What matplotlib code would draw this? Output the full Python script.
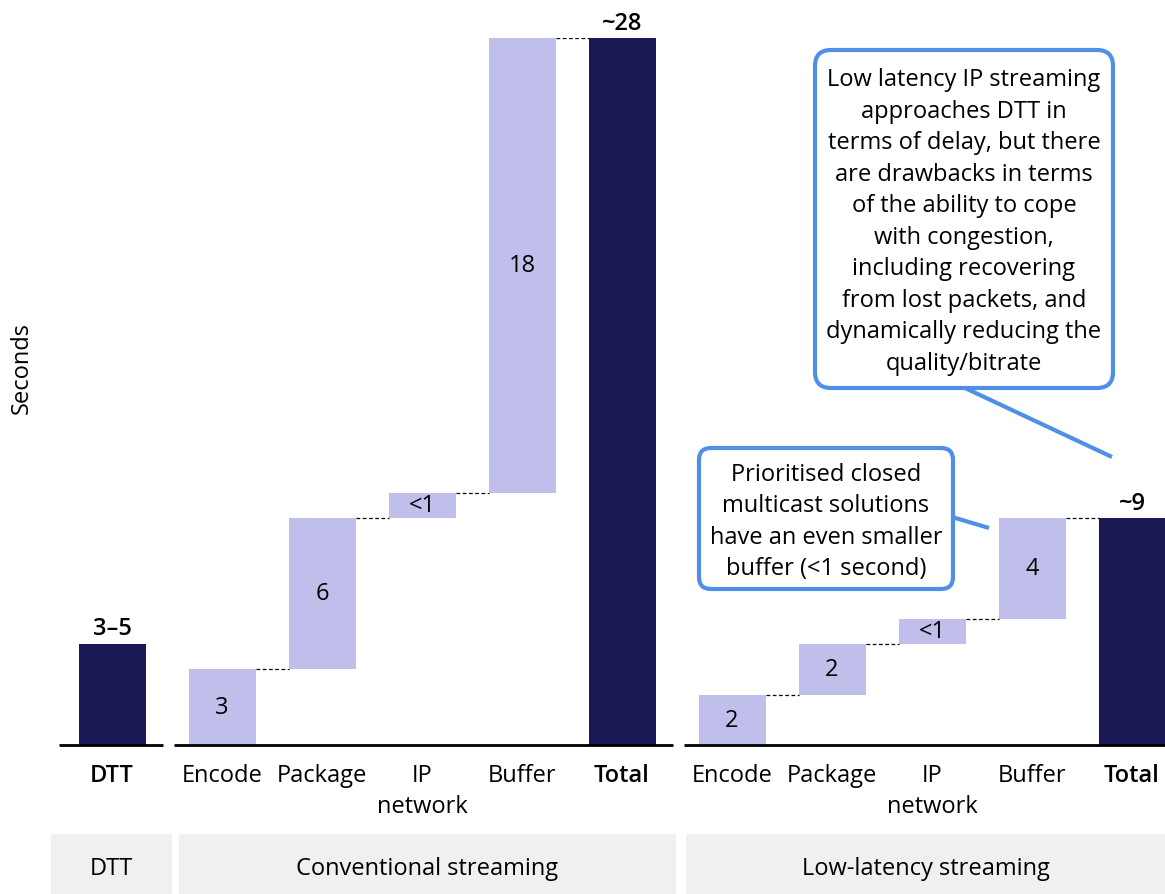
import matplotlib
matplotlib.use("Agg")
import matplotlib.pyplot as plt
from matplotlib.patches import FancyBboxPatch, Rectangle

plt.rcParams['font.family'] = ['Open Sans', 'DejaVu Sans']

# ---- data ----
dtt_value = 4
dtt_label = "3–5"
conv_steps = ["Encode", "Package", "IP\nnetwork", "Buffer"]
conv_values = [3, 6, 1, 18]
conv_labels = ["3", "6", "<1", "18"]
conv_total = 28
conv_total_label = "~28"
low_steps = ["Encode", "Package", "IP\nnetwork", "Buffer"]
low_values = [2, 2, 1, 4]
low_labels = ["2", "2", "<1", "4"]
low_total = 9
low_total_label = "~9"
group_names = ["DTT", "Conventional streaming", "Low-latency streaming"]
note_big = ("Low latency IP streaming\napproaches DTT in\nterms of delay, but there\n"
            "are drawbacks in terms\nof the ability to cope\nwith congestion,\n"
            "including recovering\nfrom lost packets, and\ndynamically reducing the\nquality/bitrate")
note_small = "Prioritised closed\nmulticast solutions\nhave an even smaller\nbuffer (<1 second)"

DARK = "#1b1856"
LIGHT = "#c0bfec"
BLUE = "#4f8fe6"
GREY = "#f0f0f0"
FS = 17
LS = 1.42

W, H = 1165, 895
fig = plt.figure(figsize=(W / 100, H / 100), dpi=100)

base_px, top_px = 746, 39
ax = fig.add_axes([0, (H - base_px) / H, 1, (base_px - top_px) / H])
ax.set_xlim(-1.12, 10.53)
ax.set_ylim(0, 28)
for s in ax.spines.values():
    s.set_visible(False)
ax.set_yticks([])
bw = 0.67

# DTT
ax.bar([0], [dtt_value], width=bw, color=DARK)
ax.annotate(dtt_label, (0, dtt_value), xytext=(0, 3), textcoords="offset points",
            ha="center", va="bottom", fontsize=FS, fontweight="semibold")

ticks, ticklabels, bold = [0], ["DTT"], [True]


def waterfall(x0, values, labels, total, total_label, names):
    cum = 0
    xs = [x0 + i for i in range(len(values) + 1)]
    for i, (v, lab) in enumerate(zip(values, labels)):
        ax.bar([xs[i]], [v], bottom=[cum], width=bw, color=LIGHT)
        ax.text(xs[i], cum + v / 2, lab, ha="center", va="center", fontsize=FS)
        cum += v
        ax.plot([xs[i] + bw / 2, xs[i + 1] - bw / 2], [cum, cum], color="black",
                lw=0.9, ls=(0, (3, 2)))
    ax.bar([xs[-1]], [total], width=bw, color=DARK)
    ax.annotate(total_label, (xs[-1], total), xytext=(0, 2), textcoords="offset points",
                ha="center", va="bottom", fontsize=FS, fontweight="semibold",
                annotation_clip=False)
    ticks.extend(xs)
    ticklabels.extend(names + ["Total"])
    bold.extend([False] * len(names) + [True])


waterfall(1.1, conv_values, conv_labels, conv_total, conv_total_label, conv_steps)
waterfall(6.2, low_values, low_labels, low_total, low_total_label, low_steps)

# baselines
for a, b in [(-0.53, 0.51), (0.62, 5.61), (5.72, 10.6)]:
    ax.plot([a, b], [0, 0], color="black", lw=2, solid_capstyle="butt", clip_on=False)

ax.set_xticks(ticks)
ax.set_xticklabels(ticklabels, fontsize=FS, linespacing=1.36)
ax.tick_params(axis="x", length=0, pad=13)
for t, b in zip(ax.get_xticklabels(), bold):
    if b:
        t.set_fontweight("semibold")

fig.text(22 / W, 1 - 368 / H, "Seconds", rotation=90, ha="center", va="center", fontsize=FS)

# overlay in pixel coordinates
ov = fig.add_axes([0, 0, 1, 1], zorder=5)
ov.set_xlim(0, W)
ov.set_ylim(H, 0)
ov.axis("off")
ov.patch.set_alpha(0)

# group boxes
for (x0, x1), name in zip([(51, 172), (179, 676), (686, 1165)], group_names):
    ov.add_patch(Rectangle((x0, 835), x1 - x0, 60, facecolor=GREY, edgecolor="none"))
    ov.text((x0 + x1) / 2, 869, name, ha="center", va="center", fontsize=FS)

# callouts
ov.plot([965, 1112], [389, 458], color=BLUE, lw=3, solid_capstyle="butt")
ov.add_patch(FancyBboxPatch((815, 51), 298, 338, boxstyle="round,pad=0,rounding_size=16",
                            facecolor="white", edgecolor=BLUE, lw=3))
ov.text(964, 222, note_big, ha="center", va="center", fontsize=FS, linespacing=LS)

ov.plot([952, 989], [518, 529], color=BLUE, lw=3, solid_capstyle="butt")
ov.add_patch(FancyBboxPatch((699, 449), 254, 141, boxstyle="round,pad=0,rounding_size=12",
                            facecolor="white", edgecolor=BLUE, lw=3))
ov.text(826, 522, note_small, ha="center", va="center", fontsize=FS, linespacing=LS)

fig.savefig("out.png", dpi=100)
